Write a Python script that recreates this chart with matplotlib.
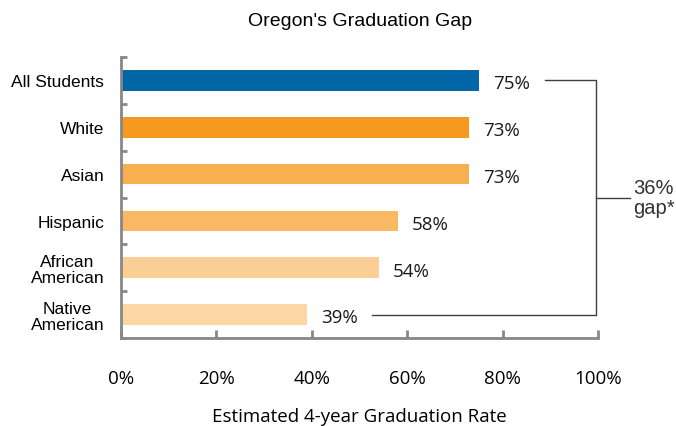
import matplotlib.pyplot as plt
from matplotlib.ticker import FixedLocator

categories = ["All Students", "White", "Asian", "Hispanic", "African\nAmerican", "Native\nAmerican"]
rates = [75, 73, 73, 58, 54, 39]
colors = ["#0066A6", "#F7991F", "#F8AF4F", "#F9B964", "#FACE95", "#FBD7A3"]
xticks = [0, 20, 40, 60, 80, 100]

plt.rcParams["font.family"] = ["Liberation Sans", "DejaVu Sans"]
fig = plt.figure(figsize=(6.76, 4.27), dpi=100)
ax = fig.add_axes([0.179, 0.206, 0.706, 0.658])

ypos = list(range(len(categories)))
ax.barh(ypos, rates, height=0.44, color=colors)
ax.set_ylim(len(categories) - 0.5, -0.5)
ax.set_xlim(0, 100)

for y, v in zip(ypos, rates):
    ax.annotate(f"{v}%", (v, y), xytext=(10, -2), textcoords="offset points",
                va="center", ha="left", fontsize=13.5, family="Open Sans",
                color="#1a1a1a")

# gap bracket
lc = "#404040"
ax.plot([88.9, 99.5, 99.5, 52.6], [0, 0, 5, 5], color=lc, lw=1, clip_on=False)
ax.plot([99.5, 106.7], [2.5, 2.5], color=lc, lw=1, clip_on=False)
ax.text(107.3, 2.5, "36%\ngap*", fontsize=14.5, va="center", ha="left",
        color="#333333", linespacing=1.1)

# axes styling
for s in ["top", "right"]:
    ax.spines[s].set_visible(False)
for s in ["left", "bottom"]:
    ax.spines[s].set_color("#878787")
    ax.spines[s].set_linewidth(2)

ax.set_xticks(xticks)
ax.set_xticklabels([f"{t}%" for t in xticks], family="Open Sans", fontsize=13.5)
ax.tick_params(axis="x", direction="in", length=6, width=2, color="#878787",
               pad=22)
ax.set_yticks(ypos)
ax.set_yticklabels(categories, fontsize=12.5, multialignment="center",
                   linespacing=1.05)
ax.tick_params(axis="y", which="major", length=0, pad=12)
ax.yaxis.set_minor_locator(FixedLocator([y - 0.5 for y in range(len(categories) + 1)]))
ax.tick_params(axis="y", which="minor", direction="in", length=4, width=2,
               color="#878787")

ax.set_xlabel("Estimated 4-year Graduation Rate", fontsize=13.5, labelpad=15,
              family="Open Sans")
ax.set_title("Oregon's Graduation Gap", fontsize=14, pad=23)

fig.savefig("out.png", dpi=100)
